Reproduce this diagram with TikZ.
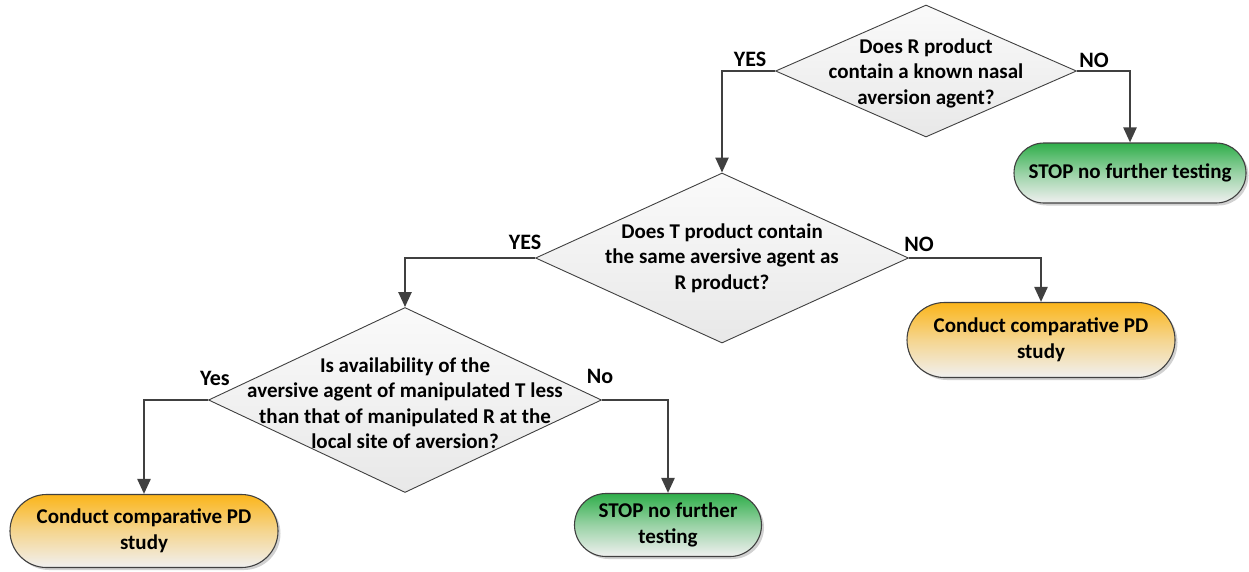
\documentclass[tikz,border=0pt]{standalone}
\usepackage{fontspec}
\setmainfont{Carlito}
\usetikzlibrary{arrows.meta,shapes.geometric,shapes.misc,shadows}
\definecolor{lineg}{HTML}{404040}
\definecolor{greentop}{HTML}{2FAE4A}
\definecolor{orangetop}{HTML}{FBB51A}
\definecolor{boxbot}{HTML}{F0F0F0}
\definecolor{diatop}{HTML}{FAFAFA}
\definecolor{diabot}{HTML}{E8E8E8}
\tikzset{
  dia/.style={diamond, draw=lineg, line width=0.9pt, top color=diatop, bottom color=diabot, inner sep=0pt, aspect=2},
  dtext/.style={align=center, font=\fontsize{21}{25.5}\selectfont\bfseries, inner sep=0pt},
  term/.style={rounded rectangle, draw=lineg, line width=1.1pt, inner sep=0pt, align=center,
     font=\fontsize{21}{25.5}\selectfont\bfseries,
     drop shadow={shadow xshift=2.5pt, shadow yshift=-2.5pt, fill=black, opacity=0.18}},
  gstop/.style={term, top color=greentop, bottom color=boxbot, middle color=greentop!45!boxbot},
  ostudy/.style={term, top color=orangetop, bottom color=boxbot, middle color=orangetop!45!boxbot},
  conn/.style={draw=lineg, line width=2.4pt, -{Triangle[width=13pt,length=15pt]}},
  lab/.style={font=\fontsize{22}{26}\selectfont\bfseries, inner sep=0pt}
}
\begin{document}
\begin{tikzpicture}[x=1pt,y=1pt]
\useasboundingbox (0,0) rectangle (1249,-571);
% decisions
\node[dia, minimum width=301, minimum height=132] (d1) at (926,-71) {};
\node[dtext] (t1) at (926,-73) {Does R product\\contain a known nasal\\aversion agent?};
\node[dia, minimum width=373, minimum height=170] (d2) at (722,-258) {};
\node[dtext] (t2) at (722,-258) {Does T product contain\\the same aversive agent as\\R product?};
\node[dia, minimum width=393, minimum height=185] (d3) at (405,-400) {};
\node[dtext] (t3) at (405,-403) {Is availability of the\\aversive agent of manipulated T less\\than that of manipulated R at the\\local site of aversion?};
% terminals
\node[gstop, minimum width=232, minimum height=60] (s1) at (1130,-173) {STOP no further testing};
\node[ostudy, minimum width=268, minimum height=75] (b2) at (1041,-340) {Conduct comparative PD\\study};
\node[ostudy, minimum width=268, minimum height=73] (b3) at (144,-531) {Conduct comparative PD\\study};
\node[gstop, minimum width=187, minimum height=63] (s2) at (668,-525) {STOP no further\\testing};
% connectors
\draw[conn] (d1.west) -| (d2.north);
\draw[conn] (d1.east) -| (s1.north);
\draw[conn] (d2.west) -| (d3.north);
\draw[conn] (d2.east) -| (b2.north);
\draw[conn] (d3.west) -| (b3.north);
\draw[conn] (d3.east) -| (s2.north);
% labels
\node[lab] (l1) at (750,-59) {YES};
\node[lab] (l2) at (1094,-60) {NO};
\node[lab] (l3) at (525,-242) {YES};
\node[lab] (l4) at (919,-244) {NO};
\node[lab] (l5) at (215,-378) {Yes};
\node[lab] (l6) at (600,-376) {No};
\end{tikzpicture}
\end{document}
